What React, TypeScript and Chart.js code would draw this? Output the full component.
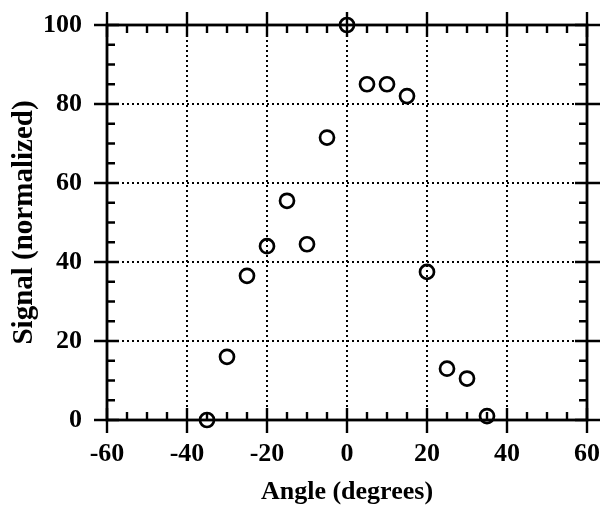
import React, { useEffect, useRef } from "react";
import { Chart, registerables } from "chart.js";

Chart.register(...registerables);

const angles = [-35, -30, -25, -20, -15, -10, -5, 0, 5, 10, 15, 20, 25, 30, 35];
const signal = [0, 16, 36.5, 44, 55.5, 44.5, 71.5, 100, 85, 85, 82, 37.5, 13, 10.5, 1];
const xTickValues = [-60, -40, -20, 0, 20, 40, 60];
const yTickValues = [0, 20, 40, 60, 80, 100];
const minorStep = 5;
const xTitle = "Angle (degrees)";
const yTitle = "Signal (normalized)";

const FONT = "'Liberation Serif', 'Times New Roman', serif";

const framePlugin = {
  id: "frame",
  afterDraw(chart: any) {
    const { ctx, chartArea } = chart;
    const { left, right, top, bottom } = chartArea;
    const xs = chart.scales.x;
    const ys = chart.scales.y;
    ctx.save();
    ctx.strokeStyle = "#000";
    ctx.lineCap = "butt";
    ctx.lineWidth = 2.8;
    ctx.strokeRect(left, top, right - left, bottom - top);
    const majIn = 12, majOut = 13, minIn = 8;
    ctx.lineWidth = 2.4;
    const xMin = xTickValues[0], xMax = xTickValues[xTickValues.length - 1];
    for (let v = xMin; v <= xMax; v += minorStep) {
      const px = xs.getPixelForValue(v);
      const major = xTickValues.includes(v);
      ctx.beginPath();
      if (major) {
        ctx.moveTo(px, bottom - majIn); ctx.lineTo(px, bottom + majOut);
        ctx.moveTo(px, top - majOut); ctx.lineTo(px, top + majIn);
      } else {
        ctx.moveTo(px, bottom - minIn); ctx.lineTo(px, bottom);
        ctx.moveTo(px, top); ctx.lineTo(px, top + minIn);
      }
      ctx.stroke();
    }
    const yMin = yTickValues[0], yMax = yTickValues[yTickValues.length - 1];
    for (let v = yMin; v <= yMax; v += minorStep) {
      const py = ys.getPixelForValue(v);
      const major = yTickValues.includes(v);
      ctx.beginPath();
      if (major) {
        ctx.moveTo(left - majOut, py); ctx.lineTo(left + majIn, py);
        ctx.moveTo(right - majIn, py); ctx.lineTo(right + majOut, py);
      } else {
        ctx.moveTo(left, py); ctx.lineTo(left + minIn, py);
        ctx.moveTo(right - minIn, py); ctx.lineTo(right, py);
      }
      ctx.stroke();
    }
    ctx.restore();
  },
};

const zeroPad = (s: any) => {
  s.paddingTop = 0;
  s.paddingBottom = 0;
  s.paddingLeft = 0;
  s.paddingRight = 0;
};

export default function App() {
  const ref = useRef<HTMLCanvasElement>(null);
  useEffect(() => {
    if (!ref.current) return;
    const chart = new Chart(ref.current, {
      type: "scatter",
      data: {
        datasets: [
          {
            data: angles.map((a, i) => ({ x: a, y: signal[i] })),
            pointRadius: 7,
            pointHoverRadius: 7,
            borderColor: "#000",
            borderWidth: 2.7,
            backgroundColor: "rgba(0,0,0,0)",
            pointStyle: "circle",
            showLine: false,
            clip: false,
          } as any,
        ],
      },
      options: {
        animation: false,
        responsive: false,
        maintainAspectRatio: false,
        layout: { padding: { top: 25, right: 15, left: 0, bottom: 0 } },
        plugins: { legend: { display: false }, tooltip: { enabled: false } },
        scales: {
          x: {
            type: "linear",
            min: -60,
            max: 60,
            afterBuildTicks: (s: any) => {
              s.ticks = xTickValues.map((v) => ({ value: v }));
            },
            afterFit: (s: any) => {
              s.height = 90;
              zeroPad(s);
            },
            ticks: {
              font: { family: FONT, size: 26, weight: "bold" },
              color: "#000",
              padding: 19,
              maxRotation: 0,
              autoSkip: false,
            },
            grid: {
              drawTicks: false,
              lineWidth: 2,
              color: (c: any) =>
                c.tick && (c.tick.value === -60 || c.tick.value === 60) ? "rgba(0,0,0,0)" : "#000",
            },
            border: { display: false, dash: [2, 3] },
            title: {
              display: true,
              text: xTitle,
              color: "#000",
              font: { family: FONT, size: 26, weight: "bold" },
              padding: { top: 0, bottom: 2 },
            },
          },
          y: {
            type: "linear",
            min: 0,
            max: 100,
            afterBuildTicks: (s: any) => {
              s.ticks = yTickValues.map((v) => ({ value: v }));
            },
            afterFit: (s: any) => {
              s.width = 107;
              zeroPad(s);
            },
            ticks: {
              font: { family: FONT, size: 26, weight: "bold" },
              color: "#000",
              padding: 25,
              autoSkip: false,
            },
            grid: {
              drawTicks: false,
              lineWidth: 2,
              color: (c: any) =>
                c.tick && (c.tick.value === 0 || c.tick.value === 100) ? "rgba(0,0,0,0)" : "#000",
            },
            border: { display: false, dash: [2, 3] },
            title: {
              display: true,
              text: yTitle,
              color: "#000",
              font: { family: FONT, size: 29, weight: "bold" },
              padding: { top: 7, bottom: 0 },
            },
          },
        },
      },
      plugins: [framePlugin],
    });
    return () => chart.destroy();
  }, []);
  return (
    <div style={{ position: "absolute", left: 0, top: 0, width: 602, height: 510, background: "#fff" }}>
      <canvas ref={ref} width={602} height={510} style={{ display: "block" }} />
    </div>
  );
}
